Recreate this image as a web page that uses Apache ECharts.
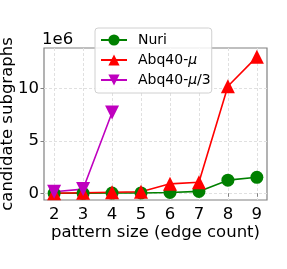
<!DOCTYPE html>
<html><head><meta charset="utf-8">
<script src="https://cdn.jsdelivr.net/npm/echarts@6/dist/echarts.min.js"></script>
<style>html,body{margin:0;padding:0;background:#fff}#c{width:287px;height:269px}</style>
</head><body><div id="c"></div>
<script>
const patternSizes = [2, 3, 4, 5, 6, 7, 8, 9];
const nuri = [0.0, 0.0, 0.02, 0.03, 0.08, 0.18, 1.25, 1.52];
const abqMu = [0.01, 0.05, 0.1, 0.15, 0.9, 1.05, 10.2, 13.0];
const abqMu3Sizes = [2, 3, 4];
const abqMu3 = [0.15, 0.4, 7.7];
const yTicks = [0, 5, 10];

const font = 'DejaVu Sans';
const chart = echarts.init(document.getElementById('c'));
const pair = (xs, ys) => xs.map((x, i) => [x, ys[i]]);
chart.setOption({
  animation: false,
  textStyle: {fontFamily: font},
  grid: {left: 44, right: 20, top: 48, bottom: 69, containLabel: false, outerBoundsMode: 'none',
         show: true, borderColor: '#808080', borderWidth: 1.2, backgroundColor: 'transparent'},
  xAxis: {
    type: 'value', min: 1.65, max: 9.35,
    name: 'pattern size (edge count)', nameLocation: 'middle', nameGap: 24, nameMoveOverlap: false,
    nameTextStyle: {fontSize: 16.5, color: '#000', fontFamily: font},
    axisLine: {show: false},
    axisTick: {show: true, length: 3.5, lineStyle: {color: '#808080'}, customValues: patternSizes},
    axisLabel: {fontSize: 16.5, color: '#000', margin: 6, customValues: patternSizes, fontFamily: font},
    splitLine: {show: true, lineStyle: {color: '#e0e0e0', type: [3, 2], width: 1}, customValues: patternSizes}
  },
  yAxis: {
    type: 'value', min: -0.64, max: 13.84,
    name: 'candidate subgraphs', nameLocation: 'middle', nameGap: 28, nameMoveOverlap: false,
    nameTextStyle: {fontSize: 16.5, color: '#000', fontFamily: font},
    axisLine: {show: false},
    axisTick: {show: true, length: 3.5, lineStyle: {color: '#808080'}, customValues: yTicks},
    axisLabel: {fontSize: 16.5, color: '#000', margin: 5, customValues: yTicks, fontFamily: font},
    splitLine: {show: true, lineStyle: {color: '#e0e0e0', type: [3, 2], width: 1}, customValues: yTicks}
  },
  legend: {
    orient: 'vertical', left: 95, top: 28,
    itemWidth: 26, itemHeight: 14, itemGap: 6,
    padding: [5, 1, 6, 5],
    backgroundColor: 'rgba(255,255,255,0.85)', borderColor: '#d0d0d0', borderWidth: 1, borderRadius: 3,
    textStyle: {fontSize: 14, color: '#000', fontFamily: font, padding: [0, 0, 0, 6],
      rich: {i: {fontStyle: 'italic', fontSize: 14, fontFamily: font}}},
    formatter: n => n.replace('μ', '{i|μ}'),
    data: ['Nuri', 'Abq40-μ', 'Abq40-μ/3']
  },
  graphic: [{type: 'text', left: 42, top: 31, style: {text: '1e6', fontSize: 16.5, fontFamily: font, fill: '#000'}}],
  series: [
    {name: 'Nuri', type: 'line', data: pair(patternSizes, nuri), symbol: 'circle', symbolSize: 13,
     color: '#008000', lineStyle: {width: 1.6}, itemStyle: {color: '#008000'}},
    {name: 'Abq40-μ', type: 'line', data: pair(patternSizes, abqMu), symbol: 'triangle', symbolSize: [14, 14],
     color: '#ff0000', lineStyle: {width: 1.6}, itemStyle: {color: '#ff0000'}},
    {name: 'Abq40-μ/3', type: 'line', data: pair(abqMu3Sizes, abqMu3), symbol: 'path://M0,0 L10,0 L5,10 Z', symbolSize: [14, 14],
     color: '#bf00bf', lineStyle: {width: 1.6}, itemStyle: {color: '#bf00bf'}}
  ]
});
</script></body></html>
